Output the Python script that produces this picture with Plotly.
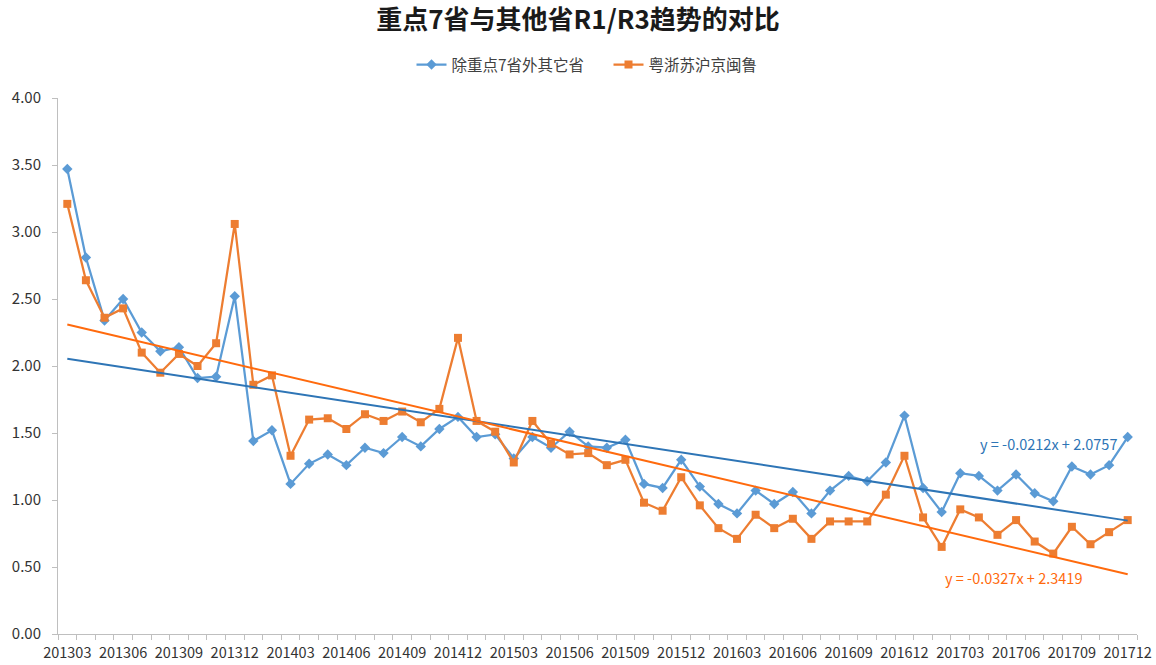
import numpy as np
import plotly.graph_objects as go

# Months 2013-03 .. 2017-12
months = [f"{y}{m:02d}" for y in range(2013, 2018) for m in range(1, 13)]
months = months[2:]

# R1/R3 ratio, provinces other than the key 7
others = [3.47, 2.81, 2.34, 2.50, 2.25, 2.11, 2.14, 1.91, 1.92, 2.52,
          1.44, 1.52, 1.12, 1.27, 1.34, 1.26, 1.39, 1.35, 1.47, 1.40,
          1.53, 1.62, 1.47, 1.49, 1.31, 1.47, 1.39, 1.51, 1.40, 1.39,
          1.45, 1.12, 1.09, 1.30, 1.10, 0.97, 0.90, 1.07, 0.97, 1.06,
          0.90, 1.07, 1.18, 1.14, 1.28, 1.63, 1.09, 0.91, 1.20, 1.18,
          1.07, 1.19, 1.05, 0.99, 1.25, 1.19, 1.26, 1.47]

# R1/R3 ratio, the key 7 provinces
key7 = [3.21, 2.64, 2.36, 2.43, 2.10, 1.95, 2.09, 2.00, 2.17, 3.06,
        1.86, 1.93, 1.33, 1.60, 1.61, 1.53, 1.64, 1.59, 1.66, 1.58,
        1.68, 2.21, 1.59, 1.51, 1.28, 1.59, 1.42, 1.34, 1.35, 1.26,
        1.30, 0.98, 0.92, 1.17, 0.96, 0.79, 0.71, 0.89, 0.79, 0.86,
        0.71, 0.84, 0.84, 0.84, 1.04, 1.33, 0.87, 0.65, 0.93, 0.87,
        0.74, 0.85, 0.69, 0.60, 0.80, 0.67, 0.76, 0.85]

# Linear trend coefficients (x = 1..N)
trend_others = (-0.0212, 2.0757)
trend_key7 = (-0.0327, 2.3419)

names = ["除重点7省外其它省", "粤浙苏沪京闽鲁"]

idx = np.arange(len(months))
xn = idx + 1

BLUE = "#5B9BD5"
ORANGE = "#ED7D31"
BLUE_TREND = "#2E75B6"
ORANGE_TREND = "#FF6A0D"
FONT = "Noto Sans CJK SC"

fig = go.Figure()
fig.add_trace(go.Scatter(
    x=idx, y=others, mode="lines+markers", name=names[0],
    line=dict(color=BLUE, width=2.25),
    marker=dict(symbol="diamond", size=8, color=BLUE),
))
fig.add_trace(go.Scatter(
    x=idx, y=key7, mode="lines+markers", name=names[1],
    line=dict(color=ORANGE, width=2.25),
    marker=dict(symbol="square", size=8, color=ORANGE),
))
fig.add_trace(go.Scatter(
    x=idx, y=trend_others[0] * xn + trend_others[1], mode="lines",
    line=dict(color=BLUE_TREND, width=2), showlegend=False, hoverinfo="skip",
))
fig.add_trace(go.Scatter(
    x=idx, y=trend_key7[0] * xn + trend_key7[1], mode="lines",
    line=dict(color=ORANGE_TREND, width=2), showlegend=False, hoverinfo="skip",
))

def eq_text(c):
    return f"y = {c[0]}x + {c[1]}"

W, H = 1156, 665
ML, MR, MT, MB = 58, 19, 98, 31
pw, ph = W - ML - MR, H - MT - MB

def px_to_paper(x, y):
    return (x - ML) / pw, (H - MB - y) / ph

ax, ay = px_to_paper(1119, 444)
fig.add_annotation(x=ax, y=ay, xref="paper", yref="paper", text=eq_text(trend_others),
                   showarrow=False, font=dict(family=FONT, size=14.5, color=BLUE_TREND),
                   xanchor="right", yanchor="middle")
ax, ay = px_to_paper(1084, 577)
fig.add_annotation(x=ax, y=ay, xref="paper", yref="paper", text=eq_text(trend_key7),
                   showarrow=False, font=dict(family=FONT, size=14.5, color=ORANGE_TREND),
                   xanchor="right", yanchor="middle")

tick_pos = idx[::3]
tick_txt = [months[i] for i in tick_pos]

_, leg_y = px_to_paper(0, 65)

fig.update_layout(
    width=W, height=H,
    margin=dict(l=ML, r=MR, t=MT, b=MB, autoexpand=False),
    paper_bgcolor="white", plot_bgcolor="white",
    font=dict(family=FONT, color="#404040"),
    title=dict(text="<b>重点7省与其他省R1/R3趋势的对比</b>", x=0.5, xanchor="center",
               y=1 - 20 / H, yanchor="middle",
               font=dict(family=FONT, size=26, color="#1a1a1a")),
    legend=dict(orientation="h", x=0.5 + 11 / pw, xanchor="center", y=leg_y, yref="paper",
                yanchor="middle", font=dict(family=FONT, size=15.5, color="#404040"),
                itemwidth=30, entrywidth=152, traceorder="normal"),
    showlegend=True,
)
fig.update_xaxes(
    range=[-0.5, len(months) - 0.5], tickmode="array", tickvals=tick_pos, ticktext=tick_txt,
    ticks="", showgrid=False, zeroline=False, showline=True, linecolor="#BFBFBF", linewidth=1,
    tickfont=dict(family=FONT, size=14.5, color="#333333"), ticklabelstandoff=6,
    ticklabeloverflow="allow",
    minor=dict(tick0=0.5, dtick=1, ticks="outside", ticklen=5, tickcolor="#BFBFBF", showgrid=False),
)
fig.update_yaxes(
    range=[0, 4], dtick=0.5, tickformat=".2f", showgrid=False, zeroline=False,
    showline=True, linecolor="#BFBFBF", linewidth=1, ticks="outside", ticklen=5, tickcolor="#BFBFBF",
    tickfont=dict(family=FONT, size=15, color="#333333"), ticklabelstandoff=8,
    ticklabeloverflow="allow",
)

fig.write_html("out.html")
